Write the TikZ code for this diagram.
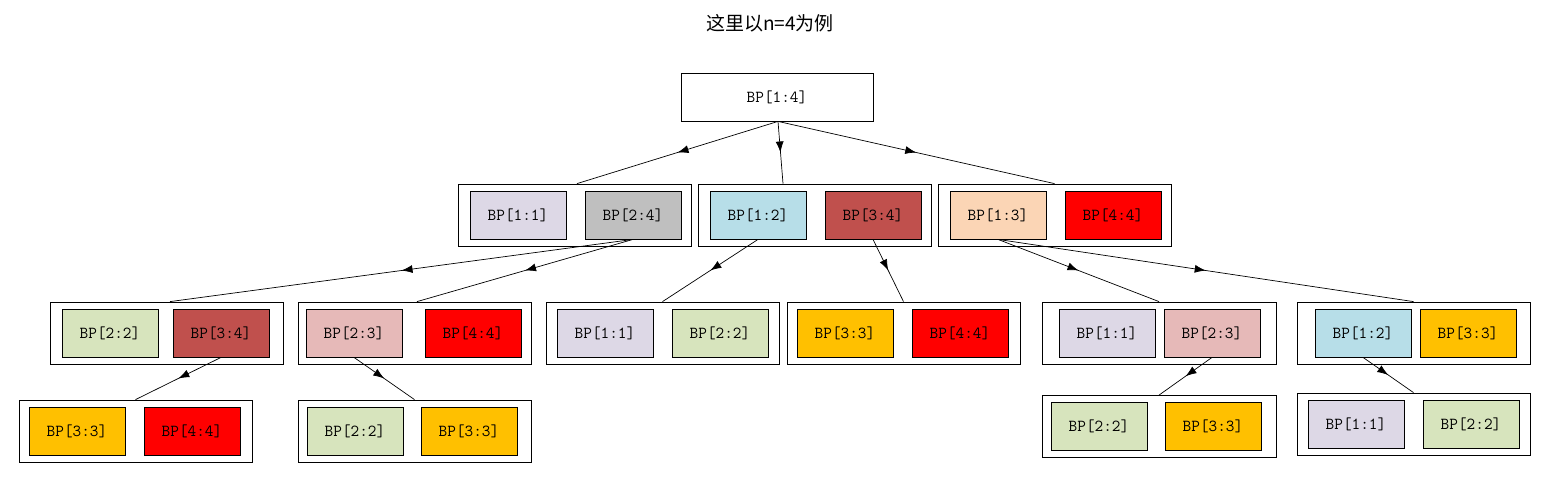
\documentclass[tikz,border=0pt]{standalone}
\usepackage{fontspec}
\newfontfamily\cjk{Noto Sans CJK SC}
\usetikzlibrary{arrows.meta,decorations.markings,calc}
\definecolor{cLav}{HTML}{DDD8E6}
\definecolor{cGray}{HTML}{BFBFBF}
\definecolor{cBlue}{HTML}{B7DEE8}
\definecolor{cBrick}{HTML}{C0504D}
\definecolor{cPeach}{HTML}{FBD5B5}
\definecolor{cRed}{HTML}{FF0000}
\definecolor{cOlive}{HTML}{D7E4BD}
\definecolor{cRose}{HTML}{E6B9B8}
\definecolor{cGold}{HTML}{FFC000}
\tikzset{
  cell/.style={draw, line width=0.8pt, minimum width=96pt, minimum height=48pt, inner sep=0pt,
    font=\fontsize{16.8}{20}\selectfont\ttfamily},
  cont/.style={draw, line width=0.8pt, minimum width=233pt, minimum height=62pt, inner sep=0pt},
  edge/.style={line width=0.7pt, postaction={decorate},
    decoration={markings, mark=at position 0.5 with {\arrow{Latex[length=11pt,width=8pt]}}}}
}
\begin{document}
\begin{tikzpicture}[x=1pt,y=-1pt]
\useasboundingbox (0,0) rectangle (1562,483);
\node[font=\cjk\fontsize{19}{22}\selectfont] (title) at (770,23) {这里以n=4为例};
% top
\node[cell, minimum width=192pt] (top) at (777,97) {BP[1:4]};
% level 1
\node[cont] (A) at (574.5,215) {};
\node[cell, fill=cLav] (a11) at (518,215) {BP[1:1]};
\node[cell, fill=cGray] (a24) at (633,215) {BP[2:4]};
\node[cont] (B) at (814.5,215) {};
\node[cell, fill=cBlue] (b12) at (758,215) {BP[1:2]};
\node[cell, fill=cBrick] (b34) at (873,215) {BP[3:4]};
\node[cont] (C) at (1054.5,215) {};
\node[cell, fill=cPeach] (c13) at (998,215) {BP[1:3]};
\node[cell, fill=cRed] (c44) at (1113,215) {BP[4:4]};
% level 2
\node[cont] (D) at (166.5,333) {};
\node[cell, fill=cOlive] (d22) at (110,333) {BP[2:2]};
\node[cell, fill=cBrick] (d34) at (221,333) {BP[3:4]};
\node[cont] (E) at (414.5,333) {};
\node[cell, fill=cRose] (e23) at (354,333) {BP[2:3]};
\node[cell, fill=cRed] (e44) at (473,333) {BP[4:4]};
\node[cont] (F) at (662.5,333) {};
\node[cell, fill=cLav] (f11) at (605,333) {BP[1:1]};
\node[cell, fill=cOlive] (f22) at (720,333) {BP[2:2]};
\node[cont] (G) at (903.5,333) {};
\node[cell, fill=cGold] (g33) at (845,333) {BP[3:3]};
\node[cell, fill=cRed] (g44) at (960,333) {BP[4:4]};
\node[cont, minimum width=234pt] (H) at (1159,333) {};
\node[cell, fill=cLav] (h11) at (1107,333) {BP[1:1]};
\node[cell, fill=cRose] (h23) at (1212,333) {BP[2:3]};
\node[cont] (I) at (1413.5,333) {};
\node[cell, fill=cBlue] (i12) at (1363,333) {BP[1:2]};
\node[cell, fill=cGold] (i33) at (1468,333) {BP[3:3]};
% level 3
\node[cont] (J) at (135.5,431) {};
\node[cell, fill=cGold] (j33) at (77,431) {BP[3:3]};
\node[cell, fill=cRed] (j44) at (192,431) {BP[4:4]};
\node[cont] (K) at (414.5,431) {};
\node[cell, fill=cOlive] (k22) at (355,431) {BP[2:2]};
\node[cell, fill=cGold] (k33) at (469,431) {BP[3:3]};
\node[cont, minimum width=234pt] (L) at (1159,426.5) {};
\node[cell, fill=cOlive] (l22) at (1099,426) {BP[2:2]};
\node[cell, fill=cGold] (l33) at (1213,426) {BP[3:3]};
\node[cont] (M) at (1413.5,424) {};
\node[cell, fill=cLav] (m11) at (1356,424) {BP[1:1]};
\node[cell, fill=cOlive] (m22) at (1471,424) {BP[2:2]};
% edges
\draw[edge] ($(top.south)+(1,0)$) -- ($(A.north)+(2.5,0)$);
\draw[edge] ($(top.south)+(1,0)$) -- ($(B.north)+(-31.5,0)$);
\draw[edge] ($(top.south)+(1,0)$) -- (C.north);
\draw[edge] (a24.south) -- ($(D.north)+(3.5,0)$);
\draw[edge] (a24.south) -- ($(E.north)+(2.5,0)$);
\draw[edge] (b12.south) -- (F.north);
\draw[edge] (b34.south) -- (G.north);
\draw[edge] (c13.south) -- (H.north);
\draw[edge] (c13.south) -- (I.north);
\draw[edge] (d34.south) -- (J.north);
\draw[edge] (e23.south) -- (K.north);
\draw[edge] (h23.south) -- (L.north);
\draw[edge] (i12.south) -- (M.north);
\end{tikzpicture}
\end{document}
